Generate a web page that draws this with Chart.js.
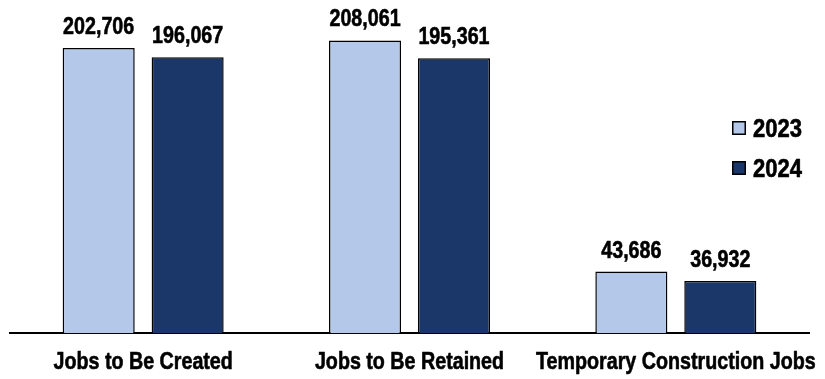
<!DOCTYPE html>
<html>
<head>
<meta charset="utf-8">
<script src="https://cdn.jsdelivr.net/npm/chart.js@4/dist/chart.umd.min.js"></script>
<style>
  html, body { margin: 0; padding: 0; background: #fff; }
  #wrap { width: 825px; height: 379px; }
</style>
</head>
<body>
<div id="wrap"><canvas id="jobs"></canvas></div>
<script>
const categories = ["Jobs to Be Created", "Jobs to Be Retained", "Temporary Construction Jobs"];
const years = ["2023", "2024"];
const jobs2023 = [202706, 208061, 43686];
const jobs2024 = [196067, 195361, 36932];

const LIGHT = "#b4c8ea";
const DARK = "#1b3668";
const FONT = "'Liberation Sans', Arial, sans-serif";

// heavy bold text squeezed sideways, like a narrow face
function narrowText(ctx, text, x, y, size, squeeze, align) {
  ctx.save();
  ctx.translate(x, y);
  ctx.scale(squeeze, 1);
  ctx.font = "bold " + size + "px " + FONT;
  ctx.fillStyle = "#000";
  ctx.strokeStyle = "#000";
  ctx.lineWidth = 0.6;
  ctx.lineJoin = "round";
  ctx.textAlign = align || "center";
  ctx.textBaseline = "alphabetic";
  ctx.fillText(text, 0, 0);
  ctx.strokeText(text, 0, 0);
  ctx.restore();
}

// value labels above each bar, category names under the axis
const barText = {
  id: "barText",
  afterDatasetsDraw(chart) {
    const ctx = chart.ctx;
    chart.data.datasets.forEach((ds, i) => {
      chart.getDatasetMeta(i).data.forEach((bar, j) => {
        narrowText(ctx, ds.data[j].toLocaleString("en-US"), bar.x, bar.y - 14, 24, 0.82);
      });
    });
    const xs = chart.scales.x;
    chart.data.labels.forEach((lbl, k) => {
      narrowText(ctx, lbl, xs.getPixelForTick(k), 369, 24, 0.82);
    });
  },
};

// legend sits inside the plot on the right
const boxLegend = {
  id: "boxLegend",
  afterDraw(chart) {
    const ctx = chart.ctx;
    chart.data.datasets.forEach((ds, i) => {
      const top = 121 + i * 40;
      ctx.save();
      ctx.fillStyle = ds.backgroundColor;
      ctx.fillRect(732, top, 14, 14);
      ctx.lineWidth = 1.5;
      ctx.strokeStyle = "#000";
      ctx.strokeRect(732.75, top + 0.75, 12.5, 12.5);
      ctx.restore();
      narrowText(ctx, ds.label, 753, top + 15.5, 25, 0.88, "left");
    });
  },
};

new Chart(document.getElementById("jobs"), {
  type: "bar",
  data: {
    labels: categories,
    datasets: [
      {
        label: years[0],
        data: jobs2023,
        backgroundColor: LIGHT,
        borderColor: "#000",
        borderWidth: 1.5,
      },
      {
        label: years[1],
        data: jobs2024,
        backgroundColor: DARK,
        borderColor: "#000",
        borderWidth: 1.5,
      },
    ],
  },
  options: {
    responsive: true,
    maintainAspectRatio: false,
    animation: false,
    layout: { padding: { left: 10, right: 16, top: 0, bottom: 46 } },
    datasets: {
      bar: { categoryPercentage: 0.668, barPercentage: 0.81 },
    },
    plugins: {
      legend: { display: false },
      tooltip: { enabled: false },
    },
    scales: {
      x: {
        grid: { display: false, drawTicks: false },
        border: { display: true, color: "#000", width: 2 },
        ticks: { display: false },
      },
      y: {
        display: false,
        min: 0,
        max: 236800,
      },
    },
  },
  plugins: [barText, boxLegend],
});
</script>
</body>
</html>
